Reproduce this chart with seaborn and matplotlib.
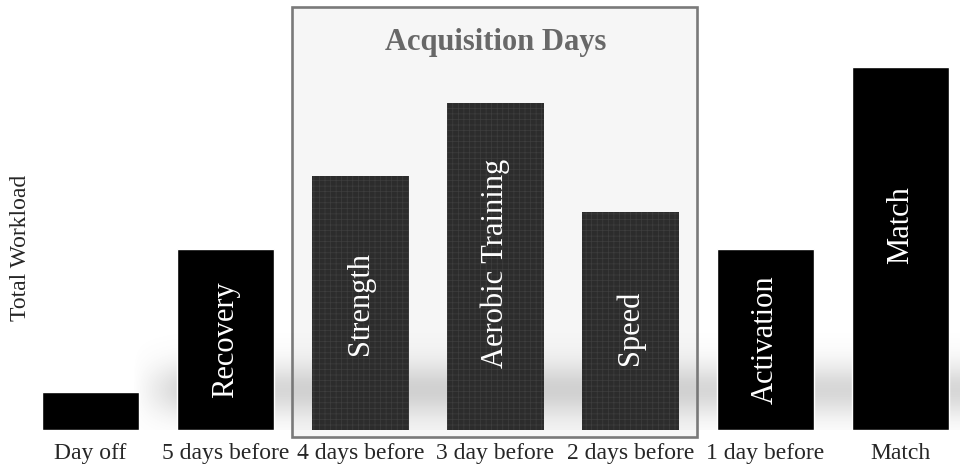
import numpy as np
import pandas as pd
import matplotlib
matplotlib.use("Agg")
import matplotlib.pyplot as plt
import seaborn as sns
from matplotlib.patches import Rectangle

# Dados
dias = ["Day off", "5 days before", "4 days before", "3 day before",
        "2 days before", "1 day before", "Match"]
carga = [1.05, 5.0, 7.0, 9.0, 6.0, 5.0, 10.0]
rotulos = ["", "Recovery", "Strength", "Aerobic Training", "Speed", "Activation", "Match"]
pos_rotulo = [0.5, 0.5, 0.5, 0.51, 0.47, 0.5, 0.565]
cores = ["#000000", "#000000", "#2c2c2c", "#2c2c2c", "#2c2c2c", "#000000", "#000000"]
aquisicao = [2, 3, 4]

df = pd.DataFrame({"dia": dias, "carga": carga})

sns.set_style("white")
plt.rcParams["font.family"] = ["Liberation Serif", "DejaVu Serif"]
plt.rcParams["hatch.linewidth"] = 0.5

fig = plt.figure(figsize=(9.6, 4.71), dpi=100)
ax = fig.add_axes([0, 0.087, 1, 0.913])

sns.barplot(data=df, x="dia", y="carga", hue="dia", palette=cores, legend=False,
            width=0.72, saturation=1, ax=ax, zorder=2)

barras = list(ax.patches)
for i, p in enumerate(barras):
    if i in aquisicao:
        p.set_hatch("+++")
        p.set_edgecolor("#3e3e3e")
        p.set_linewidth(0)
    if rotulos[i]:
        ax.text(i, carga[i] * pos_rotulo[i], rotulos[i], rotation=90, color="white",
                ha="center", va="center", fontsize=22, zorder=3)

# caixa dos dias de aquisicao
caixa = Rectangle((1.493, -0.19), 3.0, 11.84, facecolor="#f6f6f6",
                  edgecolor="#7a7a7a", linewidth=1.9, zorder=0, clip_on=False)
ax.add_patch(caixa)

# sombra difusa atras das barras
yy = np.linspace(0, 4, 300)
xx = np.linspace(0.3, 6.5, 200)
perfil = np.exp(-((yy - 1.1) / 0.75) ** 2)
borda = np.clip((xx - 0.3) / 0.35, 0, 1)
grad = np.zeros((300, 200, 4))
grad[..., :3] = 0.45
grad[..., 3] = 0.28 * perfil[:, None] * borda[None, :]
ax.imshow(grad, extent=(0.3, 6.5, 0, 4), origin="lower", aspect="auto", zorder=0.5,
          interpolation="bilinear")

ax.text(3, 10.69, "Acquisition Days", ha="center", va="center", fontsize=22,
        fontweight="bold", color="#686868", zorder=3)

ax.set_xlim(-0.67, 6.44)
ax.set_ylim(0, 11.85)
ax.set_xlabel("")
ax.set_ylabel("Total Workload", fontsize=17)
ax.yaxis.set_label_coords(0.032, 0.423)
ax.set_yticks([])
ax.tick_params(axis="x", length=0, pad=9, labelsize=17)
sns.despine(ax=ax, left=True, bottom=True, top=True, right=True)
ax.patch.set_alpha(0)

fig.savefig("out.png", dpi=100)
